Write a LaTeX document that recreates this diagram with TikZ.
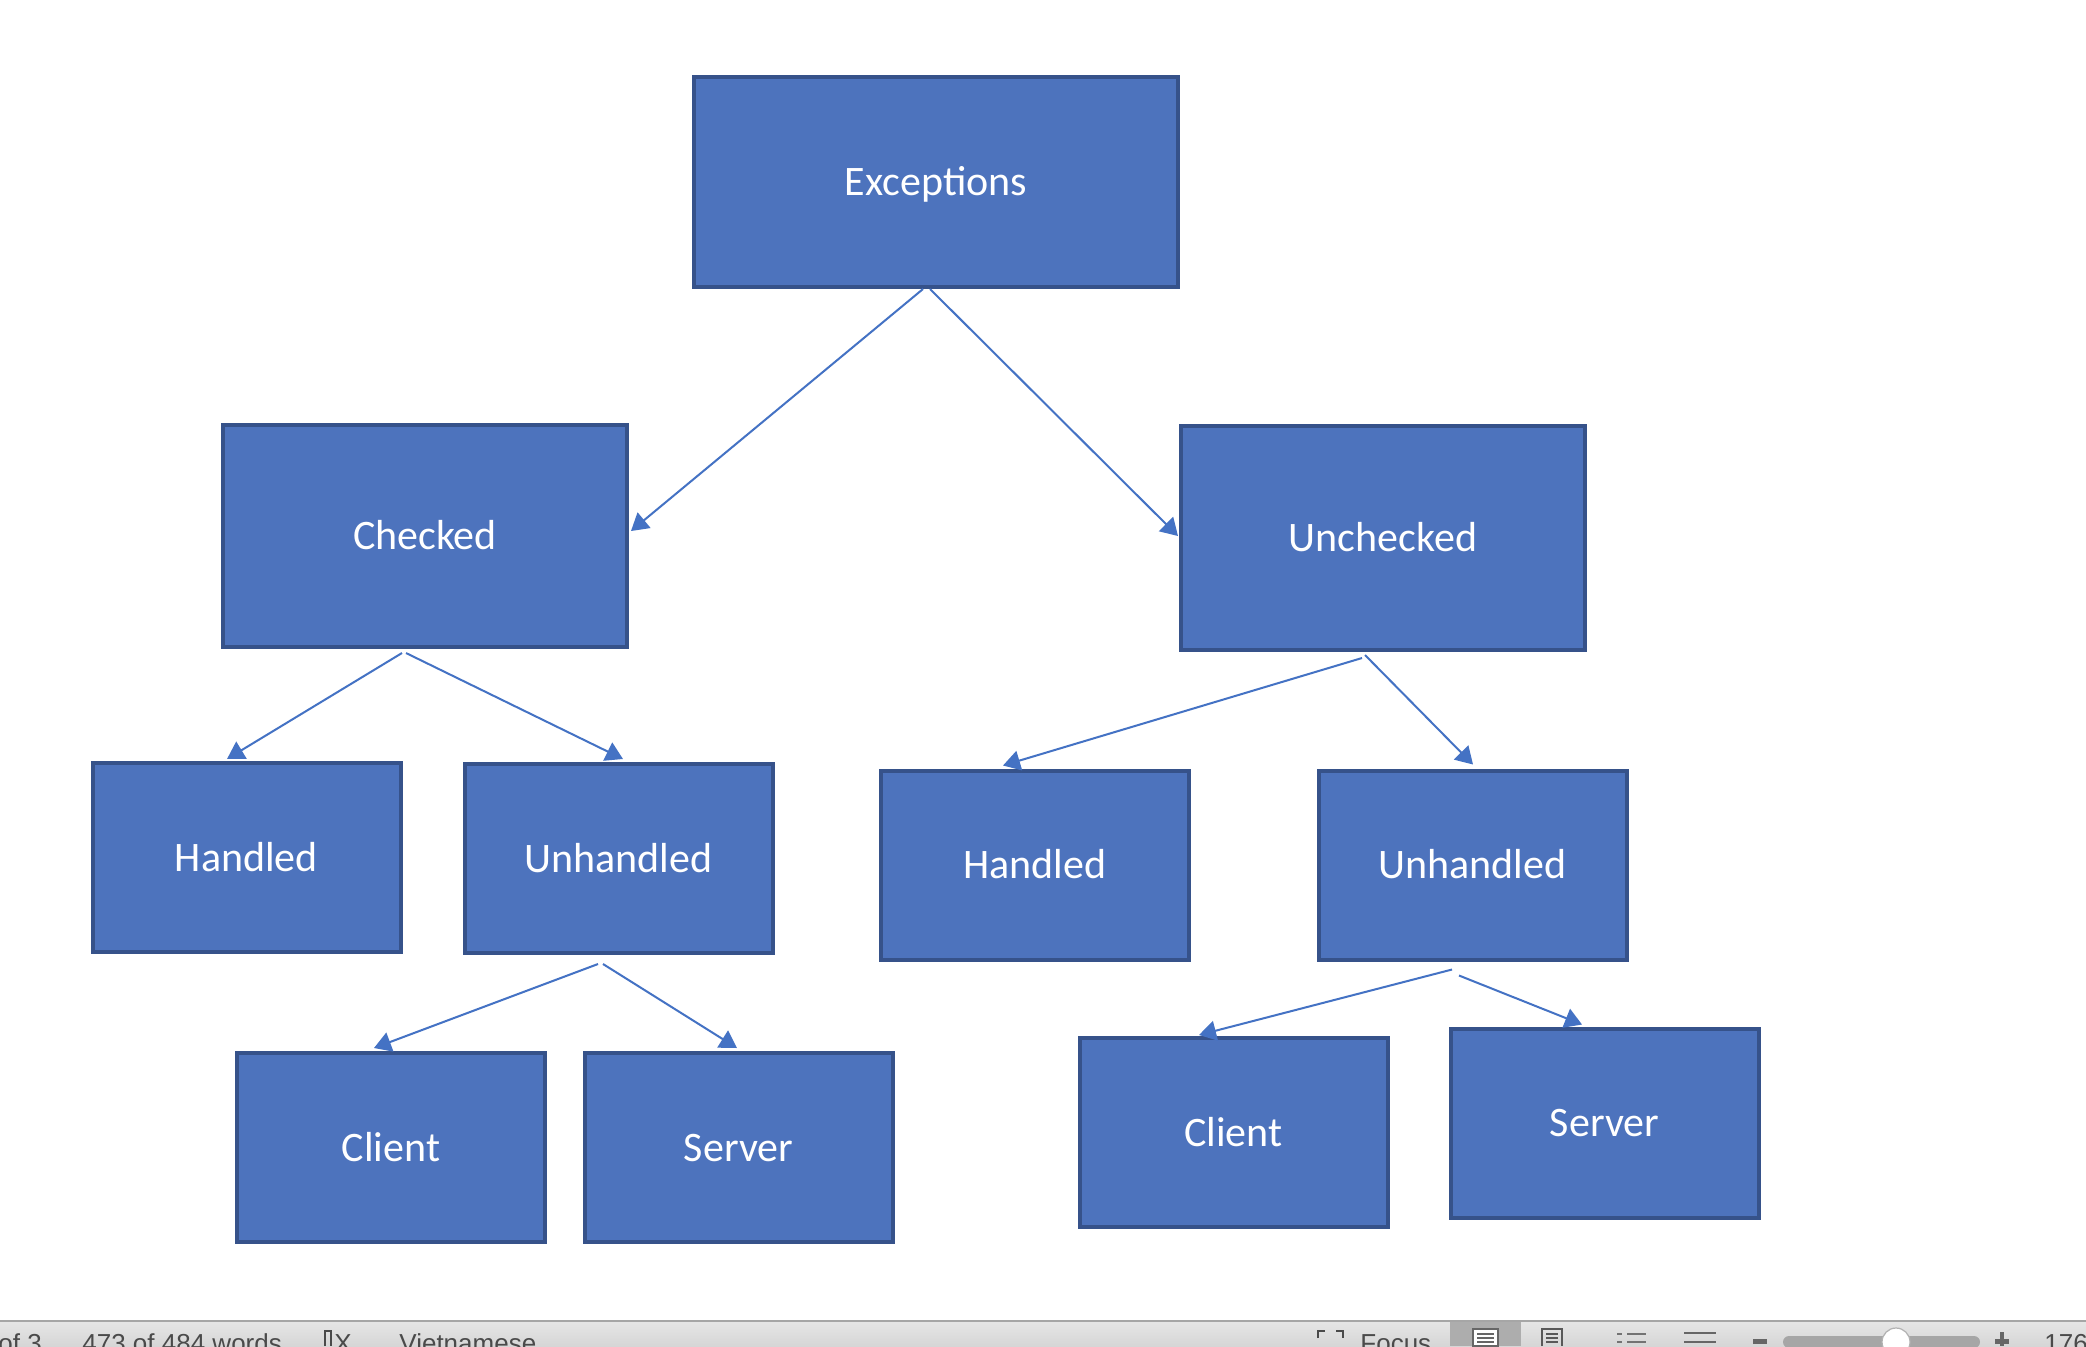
\documentclass[tikz,border=0pt]{standalone}
\usepackage{fontspec}
\setmainfont{Carlito}
\newfontfamily\uifont{Liberation Sans}
\usetikzlibrary{arrows.meta,calc}
\definecolor{boxfill}{HTML}{4D73BD}
\definecolor{boxline}{HTML}{36528A}
\definecolor{arrowc}{HTML}{4472C4}
\definecolor{bartop}{HTML}{E6E6E6}
\definecolor{barbot}{HTML}{D6D6D6}
\definecolor{bartext}{HTML}{4A4A4A}
\begin{document}
\begin{tikzpicture}[x=0.5pt,y=-0.5pt,
  box/.style={draw=boxline,fill=boxfill,line width=2pt,text=white,
    font=\fontsize{21}{25}\selectfont,inner sep=0pt,text height=13.5pt,text depth=0pt},
  bigbox/.style={box,minimum width=202pt,minimum height=111pt},
  smallbox/.style={box,minimum width=154pt,minimum height=94.5pt},
  conn/.style={draw=arrowc,line width=1pt,-{Triangle[length=8.5pt,width=10pt]}},
  bartxt/.style={anchor=base west,inner sep=0pt,text=bartext,font=\uifont\fontsize{13}{15}\selectfont}]
\useasboundingbox (0,0) rectangle (2086,1346);
\fill[white] (0,0) rectangle (2086,1346);

% boxes
\node[box,minimum width=242pt,minimum height=105pt] (exc) at (936,182) {Exceptions};
\node[bigbox] (chk) at (425,536) {Checked};
\node[bigbox,minimum height=112pt] (unc) at (1383,538) {Unchecked};
\node[smallbox] (hl) at (246.5,857.5) {Handled};
\node[smallbox] (ul) at (618.5,858.5) {Unhandled};
\node[smallbox] (hr) at (1035,865) {Handled};
\node[smallbox] (ur) at (1472.5,865) {Unhandled};
\node[smallbox] (cl) at (391,1147.5) {Client};
\node[smallbox] (sl) at (738.5,1147.5) {Server};
\node[smallbox] (cr) at (1233.5,1132.5) {Client};
\node[smallbox] (sr) at (1604.5,1123) {Server};

% connectors
\draw[conn] ($(exc.south)+(-13,0)$) -- ($(chk.east)+(2,-5)$);
\draw[conn] ($(exc.south)+(-6,0)$) -- ($(unc.west)+(-1,-2)$);
\draw[conn] ($(chk.south)+(-23,4)$) -- ($(hl.north)+(-19.5,-2)$);
\draw[conn] ($(chk.south)+(-19,4)$) -- ($(ul.north)+(4.5,-3)$);
\draw[conn] ($(unc.south)+(-21,6)$) -- ($(hr.north)+(-32,-3)$);
\draw[conn] ($(unc.south)+(-18,3)$) -- ($(ur.north)+(0.5,-4)$);
\draw[conn] ($(ul.south)+(-20.5,9)$) -- ($(cl.north)+(-17,-3)$);
\draw[conn] ($(ul.south)+(-15.5,9)$) -- ($(sl.north)+(-1.5,-3)$);
\draw[conn] ($(ur.south)+(-20.5,8)$) -- ($(cr.north)+(-34.5,-1)$);
\draw[conn] ($(ur.south)+(-13.5,14)$) -- ($(sr.north)+(-22.5,-2)$);

% status bar
\begin{scope}
\clip (0,1320) rectangle (2086,1346);
\shade[top color=bartop,bottom color=barbot] (0,1321) rectangle (2086,1346);
\draw[black!35,line width=1.2pt] (0,1321) -- (2086,1321);
\fill[black!32] (1450,1322) rectangle (1521,1346);
\node[bartxt] (pg) at (-2,1352) {of 3};
\node[bartxt] (wd) at (82,1352) {473 of 484 words};
\draw[bartext,line width=0.8pt] (325,1346) -- (325,1331) -- (331,1331) -- (331,1346);
\node[bartxt] (spx) at (334,1352) {X};
\node[bartxt] (lang) at (399,1352) {Vietnamese};
\draw[bartext,line width=0.8pt] (1318,1338) -- (1318,1331) -- (1325,1331) (1336,1331) -- (1343,1331) -- (1343,1338);
\node[bartxt] (foc) at (1360,1352) {Focus};
\fill[white] (1473,1329) rectangle (1498,1346);
\draw[black!60,line width=0.6pt] (1473,1329) rectangle (1498,1346);
\foreach \yy in {1334,1338,1342} \draw[black!60,line width=0.6pt] (1477,\yy) -- (1494,\yy);
\draw[black!65,line width=0.8pt] (1542,1346) -- (1542,1329) -- (1562,1329) -- (1562,1346);
\foreach \yy in {1334,1338,1342} \draw[black!65,line width=0.6pt] (1546,\yy) -- (1558,\yy);
\foreach \yy in {1334,1342} {\draw[black!55,line width=1pt] (1617,\yy) -- (1622,\yy); \draw[black!55,line width=1pt] (1627,\yy) -- (1646,\yy);}
\foreach \yy in {1333,1342} \draw[black!60,line width=1.2pt] (1684,\yy) -- (1716,\yy);
\fill[black!60] (1753,1339) rectangle (1767,1344);
\fill[black!35,rounded corners=3pt] (1783,1336) rectangle (1980,1348);
\fill[white] (1896,1342) circle (7pt);
\draw[black!30,line width=0.6pt] (1896,1342) circle (7pt);
\fill[black!60] (1995,1339) rectangle (2009,1344);
\fill[black!60] (2000,1332) rectangle (2004,1346);
\node[bartxt] (zm) at (2044,1352) {176};
\end{scope}
\end{tikzpicture}
\end{document}
